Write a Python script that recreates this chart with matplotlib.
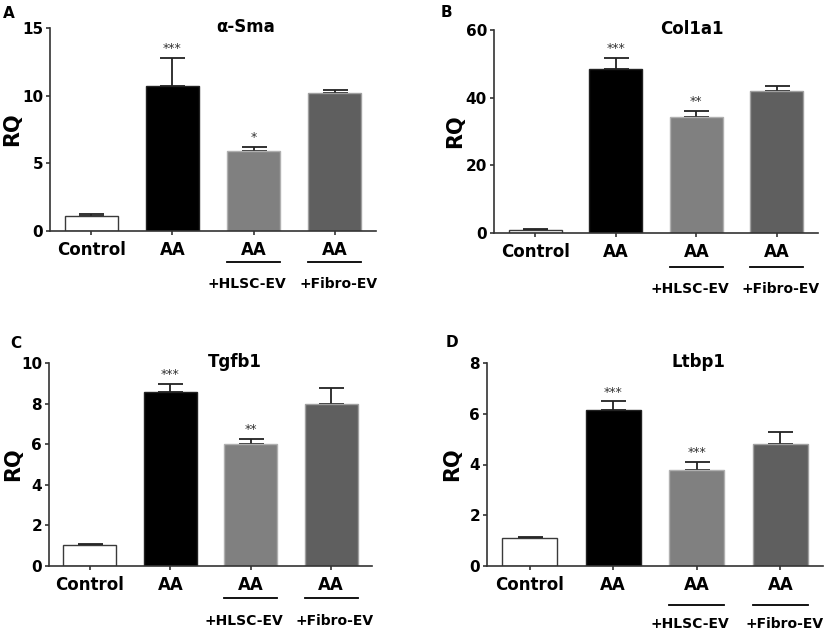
import numpy as np
import matplotlib
matplotlib.use('Agg')
import matplotlib.pyplot as plt
import matplotlib.transforms as mtransforms

# Datos (RQ, media y limite superior de la barra de error)
grupos = ['Control', 'AA', 'AA', 'AA']
sub_etiquetas = ['', '', '+HLSC-EV', '+Fibro-EV']

genes = ['α-Sma', 'Col1a1', 'Tgfb1', 'Ltbp1']
letras = ['A', 'B', 'C', 'D']

sma_media = [1.1, 10.72, 5.88, 10.2]
sma_err = [0.13, 2.09, 0.34, 0.24]
sma_sig = ['', '***', '*', '']

col1a1_media = [1.0, 48.4, 34.35, 41.9]
col1a1_err = [0.2, 3.4, 1.65, 1.6]
col1a1_sig = ['', '***', '**', '']

tgfb1_media = [1.02, 8.57, 6.03, 7.96]
tgfb1_err = [0.07, 0.39, 0.23, 0.81]
tgfb1_sig = ['', '***', '**', '']

ltbp1_media = [1.09, 6.13, 3.78, 4.79]
ltbp1_err = [0.04, 0.36, 0.31, 0.51]
ltbp1_sig = ['', '***', '***', '']

y_max = [15, 60, 10, 8]
y_paso = [5, 20, 2, 2]

medias = [sma_media, col1a1_media, tgfb1_media, ltbp1_media]
errores = [sma_err, col1a1_err, tgfb1_err, ltbp1_err]
signif = [sma_sig, col1a1_sig, tgfb1_sig, ltbp1_sig]

colores = ['white', 'black', '#808080', '#5f5f5f']
bordes = ['#3a3a3a', '#222222', '#b0b0b0', '#a0a0a0']

plt.rcParams['font.family'] = 'DejaVu Sans'
plt.rcParams['font.weight'] = 'bold'

W, H = 827, 635
fig = plt.figure(figsize=(W / 100, H / 100), dpi=100)

# Posiciones de los ejes en pixeles: izquierda, derecha, arriba, abajo
cajas = [(50, 376, 28, 231), (494, 818, 30, 233), (49, 372, 363, 566), (487, 823, 363, 566)]
pos_titulo = [0.60, 0.61, 0.576, 0.63]
pos_letra = [(3, 18), (441, 17), (10, 348), (446, 347)]
pos_rq = [12, 455, 13, 452]
lin_sub = [31, 34, 32, 39]
txt_sub = [57, 60, 59, 62]
desp_sub = [0, 0, -0.08, 0.05]

for k in range(4):
    l, r, t, b = cajas[k]
    ax = fig.add_axes([l / W, 1 - b / H, (r - l) / W, (b - t) / H])
    x = np.arange(len(grupos))
    ax.bar(x, medias[k], width=0.66, color=colores, edgecolor=bordes, linewidth=1.0, zorder=2)
    ax.errorbar(x, medias[k], yerr=[np.zeros(4), errores[k]], fmt='none', ecolor='#222222',
                elinewidth=1.3, capsize=9, capthick=1.3, zorder=1)
    for i in range(4):
        if signif[k][i]:
            ax.annotate(signif[k][i], (x[i], medias[k][i] + errores[k][i]), xytext=(0, 2),
                        textcoords='offset points', ha='center', va='bottom',
                        fontsize=9, fontweight='normal', color='#333333')

    ax.set_xlim(-0.51, 3.51)
    ax.set_ylim(0, y_max[k])
    ax.set_yticks(np.arange(0, y_max[k] + 0.1, y_paso[k]))
    ax.set_xticks(x)
    ax.set_xticklabels(grupos, fontsize=12, fontweight='bold')
    for lab in ax.get_yticklabels():
        lab.set_fontsize(11)
        lab.set_fontweight('bold')
    ax.spines['top'].set_visible(False)
    ax.spines['right'].set_visible(False)
    for s in ['left', 'bottom']:
        ax.spines[s].set_color('#333333')
        ax.spines[s].set_linewidth(1.2)
    ax.tick_params(axis='both', length=3, width=1.2, color='#333333', pad=2)
    ax.tick_params(axis='x', pad=4)

    ax.set_ylabel('RQ', fontsize=15, fontweight='bold', va='center', ha='center')
    ax.yaxis.set_label_coords((pos_rq[k] - l) / (r - l), 0.5)

    ax.text(pos_titulo[k], 1 - 4 / (b - t), genes[k], transform=ax.transAxes,
            ha='center', va='baseline', fontsize=12, fontweight='bold')
    fig.text(pos_letra[k][0] / W, 1 - pos_letra[k][1] / H, letras[k],
             ha='left', va='baseline', fontsize=11, fontweight='bold')

    trans = mtransforms.blended_transform_factory(ax.transData, ax.transAxes)
    for i in range(4):
        if sub_etiquetas[i]:
            yl = -lin_sub[k] / (b - t)
            ax.plot([x[i] - 0.33, x[i] + 0.33], [yl, yl], color='black', lw=1.3,
                    transform=trans, clip_on=False)
            ax.text(x[i] + desp_sub[i], -txt_sub[k] / (b - t), sub_etiquetas[i], transform=trans,
                    ha='center', va='baseline', fontsize=10, fontweight='bold')

fig.savefig('out.png', dpi=100)
